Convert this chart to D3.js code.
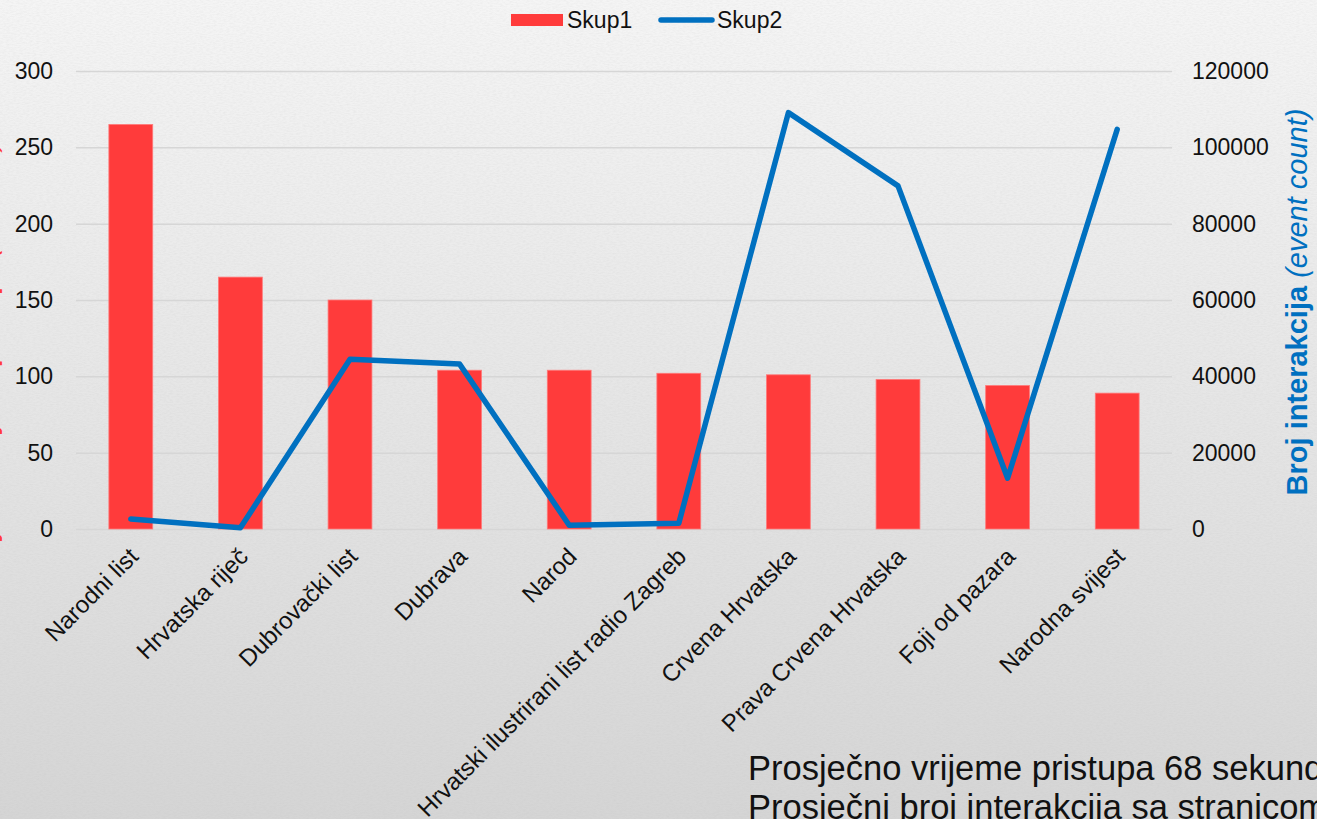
<!DOCTYPE html>
<html>
<head>
<meta charset="utf-8">
<script src="https://cdn.jsdelivr.net/npm/d3@7"></script>
<style>
  html, body { margin: 0; padding: 0; overflow: hidden; background: #e6e6e6; }
  svg { display: block; font-family: "Liberation Sans", Arial, sans-serif; }
</style>
</head>
<body>
<svg id="chart" width="1317" height="819"></svg>
<script>
// ---- data ----
const categories = ["Narodni list", "Hrvatska riječ", "Dubrovački list", "Dubrava", "Narod",
  "Hrvatski ilustrirani list radio Zagreb", "Crvena Hrvatska", "Prava Crvena Hrvatska",
  "Foji od pazara", "Narodna svijest"];
const skup1 = [265, 165, 150, 104, 104, 102, 101, 98, 94, 89];
const skup2 = [2600, 300, 44500, 43200, 1000, 1500, 109100, 89900, 13300, 104700];
const leftTicks = [0, 50, 100, 150, 200, 250, 300];
const rightTicks = [0, 20000, 40000, 60000, 80000, 100000, 120000];
const seriesNames = ["Skup1", "Skup2"];
const rightTitleBold = "Broj interakcija ";
const rightTitleItalic = "(event count)";
const leftTitleBold = "Prosječno vrijeme pristupa ";
const leftTitleItalic = "(sekunde)";
const noteLines = ["Prosječno vrijeme pristupa 68 sekundi",
  "Prosječni broj interakcija sa stranicom 3,5"];

// ---- layout ----
const W = 1317, H = 819;
const plot = { left: 76, right: 1172, top: 71, bottom: 529 };
const redC = "#FF3B3B", blueC = "#0070C0", textC = "#111111";

const svg = d3.select("#chart");
const defs = svg.append("defs");
const grad = defs.append("linearGradient").attr("id", "bg").attr("x1", 0).attr("y1", 0).attr("x2", 0).attr("y2", 1);
grad.append("stop").attr("offset", "0%").attr("stop-color", "#f5f5f5");
grad.append("stop").attr("offset", "55%").attr("stop-color", "#e4e4e4");
grad.append("stop").attr("offset", "100%").attr("stop-color", "#d5d5d5");
const filt = defs.append("filter").attr("id", "paper").attr("x", 0).attr("y", 0).attr("width", "100%").attr("height", "100%");
filt.append("feTurbulence").attr("type", "fractalNoise").attr("baseFrequency", "0.3 0.9").attr("numOctaves", 2).attr("seed", 3);
filt.append("feColorMatrix").attr("type", "matrix")
  .attr("values", "0 0 0 0 0.5  0 0 0 0 0.5  0 0 0 0 0.5  0 0 0 -1.2 0.8");

svg.append("rect").attr("width", W).attr("height", H).attr("fill", "url(#bg)");
svg.append("rect").attr("width", W).attr("height", H).attr("filter", "url(#paper)").attr("opacity", 0.22);

// ---- scales ----
const x = d3.scaleBand().domain(categories).range([plot.left, plot.right]).paddingInner(0.6).paddingOuter(0.3);
const yL = d3.scaleLinear().domain([0, 300]).range([plot.bottom, plot.top]);
const yR = d3.scaleLinear().domain([0, 120000]).range([plot.bottom, plot.top]);

// ---- gridlines ----
const grid = svg.append("g").attr("transform", `translate(${plot.left},0)`)
  .call(d3.axisLeft(yL).tickValues(leftTicks).tickSize(-(plot.right - plot.left)).tickFormat(""));
grid.select(".domain").remove();
grid.selectAll("line").attr("stroke", "#d6d6d6").attr("stroke-width", 1.5);

// ---- bars ----
svg.append("g").selectAll("rect").data(skup1).join("rect")
  .attr("x", (d, i) => x(categories[i]))
  .attr("width", x.bandwidth())
  .attr("y", d => yL(d))
  .attr("height", d => yL(0) - yL(d))
  .attr("fill", redC)
  .attr("stroke", "#ff7a7a").attr("stroke-width", 0.8);

// ---- line ----
const line = d3.line().x((d, i) => x(categories[i]) + x.bandwidth() / 2).y(d => yR(d));
svg.append("path").datum(skup2).attr("d", line)
  .attr("fill", "none").attr("stroke", blueC).attr("stroke-width", 5.5)
  .attr("stroke-linecap", "round").attr("stroke-linejoin", "round");

// ---- axes ----
const fs = 23;
const axL = svg.append("g").attr("transform", `translate(${plot.left},0)`)
  .call(d3.axisLeft(yL).tickValues(leftTicks).tickSize(0).tickPadding(23).tickFormat(d3.format("d")));
axL.select(".domain").remove();
axL.selectAll("text").attr("font-size", fs).attr("fill", textC).attr("font-family", "Liberation Sans, Arial, sans-serif");

const axR = svg.append("g").attr("transform", `translate(${plot.right},0)`)
  .call(d3.axisRight(yR).tickValues(rightTicks).tickSize(0).tickPadding(20).tickFormat(d3.format("d")));
axR.select(".domain").remove();
axR.selectAll("text").attr("font-size", fs).attr("fill", textC).attr("font-family", "Liberation Sans, Arial, sans-serif");

const axB = svg.append("g").attr("transform", `translate(0,${plot.bottom})`)
  .call(d3.axisBottom(x).tickSize(0));
axB.select(".domain").remove();
axB.selectAll("text")
  .attr("font-size", 24).attr("fill", textC).attr("font-family", "Liberation Sans, Arial, sans-serif")
  .attr("text-anchor", "end")
  .attr("x", 9).attr("y", 29).attr("dy", 0)
  .attr("transform", "rotate(-45 9 29)");

// ---- axis titles ----
const rt = svg.append("text")
  .attr("transform", `translate(1307,302) rotate(-90)`)
  .attr("text-anchor", "middle").attr("font-size", 29).attr("fill", blueC);
rt.append("tspan").attr("font-weight", "bold").text(rightTitleBold);
rt.append("tspan").attr("font-style", "italic").text(rightTitleItalic);

const lt = svg.append("text")
  .attr("transform", `translate(-3,370) rotate(-90)`)
  .attr("text-anchor", "middle").attr("font-size", 26).attr("fill", redC);
lt.append("tspan").attr("font-weight", "bold").text(leftTitleBold);
lt.append("tspan").attr("font-style", "italic").text(leftTitleItalic);

// ---- legend ----
const lg = svg.append("g");
lg.append("rect").attr("x", 511).attr("y", 14).attr("width", 52).attr("height", 12).attr("fill", redC);
lg.append("text").attr("x", 567).attr("y", 28).attr("font-size", fs).attr("fill", textC).text(seriesNames[0]);
lg.append("line").attr("x1", 661).attr("x2", 712).attr("y1", 20).attr("y2", 20)
  .attr("stroke", blueC).attr("stroke-width", 5.5).attr("stroke-linecap", "round");
lg.append("text").attr("x", 717).attr("y", 28).attr("font-size", fs).attr("fill", textC).text(seriesNames[1]);

// ---- note ----
svg.append("g").selectAll("text").data(noteLines).join("text")
  .attr("x", 748).attr("y", (d, i) => 780 + i * 39)
  .attr("font-size", 34.5).attr("fill", textC).text(d => d);
</script>
</body>
</html>
